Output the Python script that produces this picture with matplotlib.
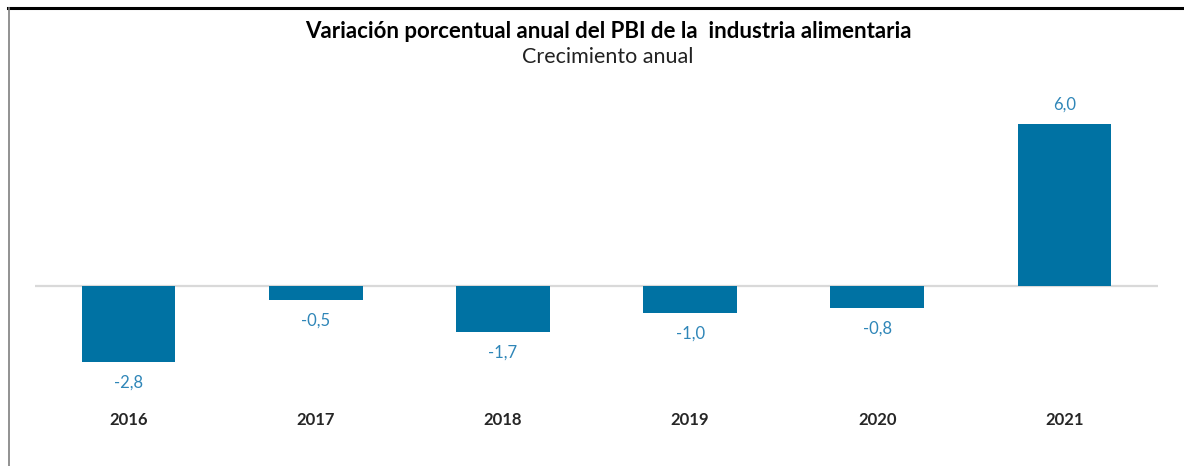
import matplotlib
matplotlib.use("Agg")
import matplotlib.pyplot as plt
from matplotlib.lines import Line2D

plt.rcParams['font.family'] = ['Lato', 'DejaVu Sans']

# datos
years = ['2016', '2017', '2018', '2019', '2020', '2021']
values = [-2.8, -0.5, -1.7, -1.0, -0.8, 6.0]
labels = ['-2,8', '-0,5', '-1,7', '-1,0', '-0,8', '6,0']

W, H = 1184, 466
fig = plt.figure(figsize=(W / 100, H / 100), dpi=100)

# axes placed in pixel coords
left, right, top, bottom = 35, 1158, 90, 400
ax = fig.add_axes([left / W, (H - bottom) / H, (right - left) / W, (bottom - top) / H])

x = list(range(len(years)))
ax.bar(x, values, width=0.5, color='#0072a3', zorder=2)
ax.axhline(0, color='#d9d9d9', linewidth=1.6, zorder=1)

ppu = 27.0  # pixels per unit
ax.set_xlim(-0.5, len(years) - 0.5)
ax.set_ylim(-(bottom - 286) / ppu, (286 - top) / ppu)
ax.axis('off')

for xi, v, lab in zip(x, values, labels):
    if v >= 0:
        ax.annotate(lab, (xi, v), xytext=(0, 11), textcoords='offset pixels',
                    ha='center', va='bottom', fontsize=12, color='#2f86b8')
    else:
        ax.annotate(lab, (xi, v), xytext=(0, -13), textcoords='offset pixels',
                    ha='center', va='top', fontsize=12, color='#2f86b8')

for xi, yr in zip(x, years):
    ax.text(xi, -(420 - bottom) / (bottom - top), yr, transform=ax.get_xaxis_transform(),
            ha='center', va='center', fontsize=12, fontweight='bold', color='#262626')

fig.text(608 / W, 1 - 31 / H, 'Variación porcentual anual del PBI de la  industria alimentaria',
         ha='center', va='center', fontsize=16, fontweight='bold', color='black')
fig.text(608 / W, 1 - 57 / H, 'Crecimiento anual', ha='center', va='center',
         fontsize=15.5, color='#222222')

# frame lines: black top, gray left
fig.add_artist(Line2D([8 / W, 1], [1 - 7.5 / H, 1 - 7.5 / H], transform=fig.transFigure,
                      color='black', linewidth=2.2))
fig.add_artist(Line2D([8.5 / W, 8.5 / W], [0, 1 - 8 / H], transform=fig.transFigure,
                      color='#7f7f7f', linewidth=1.2))

fig.savefig('out.png', dpi=100, facecolor='white')
